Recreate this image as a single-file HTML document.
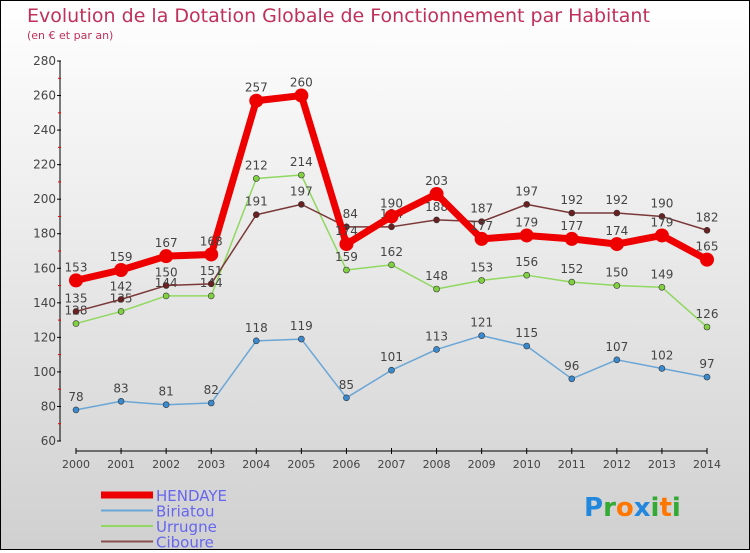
<!DOCTYPE html>
<html><head><meta charset="utf-8"><style>
body{margin:0}
#c{width:748px;height:548px;border:1px solid #000;background:linear-gradient(#fff,#d0d0d0);position:relative;font-family:"DejaVu Sans","Liberation Sans",sans-serif}
svg text{font-family:"DejaVu Sans","Liberation Sans",sans-serif}
</style></head><body>
<div id="c">
<svg id="s" width="748" height="548">
<text x="26" y="21" font-size="19" fill="#c0305a">Evolution de la Dotation Globale de Fonctionnement par Habitant</text>
<text x="26" y="38" font-size="11" fill="#c0305a">(en € et par an)</text>
</svg>
</div>
<script>
const years=[2000,2001,2002,2003,2004,2005,2006,2007,2008,2009,2010,2011,2012,2013,2014];
const yTicks=[60,80,100,120,140,160,180,200,220,240,260,280];
const hendaye=[153,159,167,168,257,260,174,190,203,177,179,177,174,179,165];
const biriatou=[78,83,81,82,118,119,85,101,113,121,115,96,107,102,97];
const urrugne=[128,135,144,144,212,214,159,162,148,153,156,152,150,149,126];
const ciboure=[135,142,150,151,191,197,184,184,188,187,197,192,192,190,182];
const NS="http://www.w3.org/2000/svg",s=document.getElementById('s');
function X(i){return 75+i*(706-75)/14;}
function Y(v){return 440-(v-60)*(380/220);}
function el(t,a,txt){const e=document.createElementNS(NS,t);for(const k in a)e.setAttribute(k,a[k]);if(txt!==undefined)e.textContent=txt;s.appendChild(e);return e;}
let e=el('line',{x1:59,y1:Y(280),x2:59,y2:Y(60),stroke:'#000'});

e=el('line',{x1:75,y1:450,x2:706,y2:450,stroke:'#000'});

yTicks.forEach((v,i)=>{
 el('line',{x1:56,y1:Y(v),x2:60,y2:Y(v),stroke:'#000'});
 if(i<yTicks.length-1){const m=el('line',{x1:57,y1:Y(v+10),x2:60,y2:Y(v+10),stroke:'#e00'});}
 e=el('text',{x:55,y:Y(v)+4,'font-size':12,fill:'#444','text-anchor':'end'},v);
 
});
years.forEach((y,i)=>{
 el('line',{x1:X(i),y1:447,x2:X(i),y2:453,stroke:'#000'});
 e=el('text',{x:X(i),y:467,'font-size':11,fill:'#444','text-anchor':'middle'},y);
 
});
function series(d,col,w,r,name,fill){
 e=el('polyline',{points:d.map((v,i)=>X(i)+','+Y(v)).join(' '),fill:'none',stroke:col,'stroke-width':w,'stroke-linejoin':'round'});
 
 d.forEach((v,i)=>{
  e=el('circle',{cx:X(i),cy:Y(v),r:r,fill:fill,stroke:'#333','stroke-width':r>5?0:0.6});
  
  e=el('text',{x:X(i),y:Y(v)-9,'font-size':12,fill:'#444','text-anchor':'middle'},v);
  
 });
}
series(biriatou,'#6aa6d6',1.5,3,'biriatou','#3a8ad0');
series(urrugne,'#90d860',1.5,3,'urrugne','#80d040');
series(ciboure,'#7a3838',1.5,3,'ciboure','#6a2020');
series(hendaye,'#ee0000',7,7,'hendaye','#ee0000');
const leg=[['HENDAYE','#ee0000',7],['Biriatou','#6aa6d6',2],['Urrugne','#90d860',2],['Ciboure','#8a5050',2]];
leg.forEach((l,i)=>{
 const y=494+i*15.5;
 e=el('line',{x1:100,y1:y,x2:152,y2:y,stroke:l[1],'stroke-width':l[2]});
 
 e=el('text',{x:155,y:y+6,'font-size':15,fill:'#6666ee'},l[0]);
 
});
e=el('text',{x:583,y:515,'font-size':26,'font-weight':'bold'});

[['P','#2288dd'],['r','#33aa33'],['o','#ff7700'],['x','#2288dd'],['i','#33aa33'],['t','#ff7700'],['i','#33aa33']].forEach(p=>{const t=document.createElementNS(NS,'tspan');t.setAttribute('fill',p[1]);t.textContent=p[0];e.appendChild(t);});
</script>
</body></html>
